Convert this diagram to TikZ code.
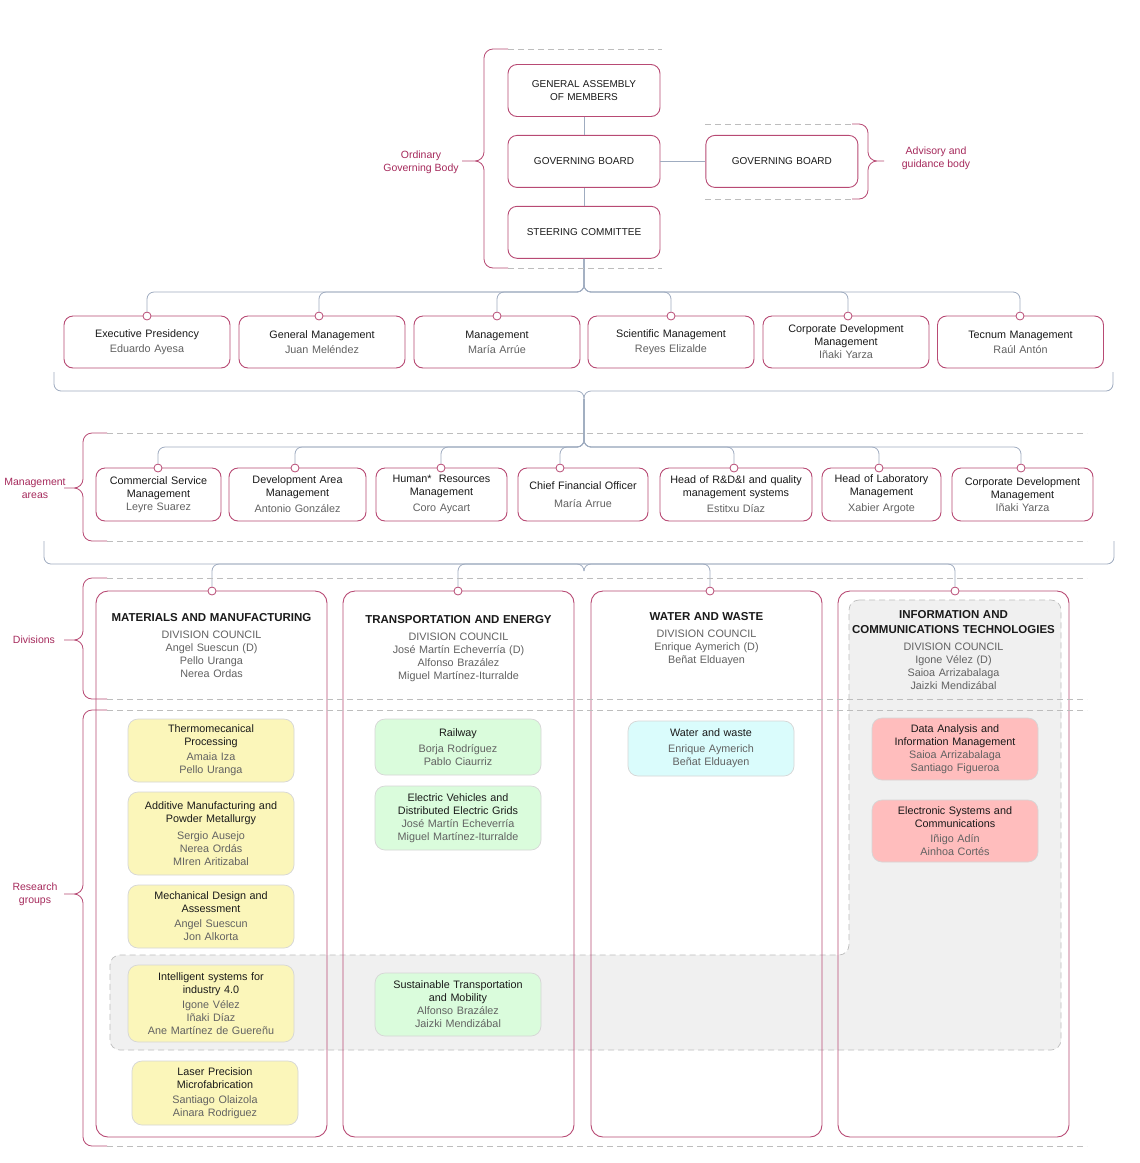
\documentclass[tikz,border=0pt]{standalone}
\usepackage{fontspec}
\setmainfont{Liberation Sans}
\usepackage{xcolor}
\usepackage{tikz}
\usetikzlibrary{positioning}

\definecolor{unavRed}{HTML}{B84A74}
\definecolor{labelRed}{HTML}{A62A5C}
\definecolor{linkGray}{HTML}{9FACC0}
\definecolor{dashGray}{HTML}{BDBDBD}
\definecolor{bandGray}{HTML}{F0F0F0}
\definecolor{nameGray}{HTML}{626262}
\definecolor{titleBlack}{HTML}{1A1A1A}
\definecolor{groupLine}{HTML}{D6D6D6}
\definecolor{mmYellow}{HTML}{FBF6BA}
\definecolor{teGreen}{HTML}{DAFCDC}
\definecolor{wwCyan}{HTML}{DAFCFC}
\definecolor{ictPink}{HTML}{FFBDBD}

\begin{document}
\begin{tikzpicture}[
  x=1pt, y=-1pt,
  font=\fontsize{10.8pt}{13pt}\selectfont,
  unit/.style={rectangle, draw=unavRed, line width=0.9pt, fill=white, rounded corners=9pt, align=center, text=titleBlack, inner xsep=0pt, minimum height=52pt, text width=#1, minimum width=#1},
  unit/.default=166pt,
  tier/.style={unit=152pt, font=\fontsize{10pt}{13pt}\selectfont},
  division/.style={rectangle, draw=unavRed, line width=0.9pt, rounded corners=12pt, minimum width=231pt, minimum height=546pt},
  divtitle/.style={align=center, text width=225pt, inner sep=0pt, text=titleBlack},
  group/.style={rectangle, draw=groupLine, line width=0.7pt, rounded corners=10pt, align=center, text=titleBlack, inner xsep=0pt, text width=166pt, minimum width=166pt},
  dot/.style={circle, draw=unavRed, fill=white, line width=0.8pt, inner sep=0pt, minimum size=8pt},
  link/.style={draw=linkGray, line width=0.8pt, rounded corners=7pt},
  brace/.style={draw=unavRed, line width=0.8pt, rounded corners=9pt},
  rule/.style={draw=dashGray, line width=0.7pt, dash pattern=on 6pt off 4pt},
  band/.style={fill=bandGray, draw=dashGray, line width=0.7pt, dash pattern=on 6pt off 4pt, rounded corners=10pt},
  sidenote/.style={text=labelRed, align=center, inner sep=0pt, font=\fontsize{10.5pt}{13pt}\selectfont}
]

\path[use as bounding box, fill=white] (0,0) rectangle (1140,1163);

% Shared research band
\path[band] (849,600) -- (1061,600) -- (1061,1050) -- (110,1050) -- (110,955) -- (849,955) -- cycle;

% Governing bodies
\node[tier] (general_assembly) at (584,90.5) {GENERAL ASSEMBLY\\OF MEMBERS};
\node[tier, below=18pt of general_assembly] (governing_board) {GOVERNING BOARD};
\node[tier, below=18pt of governing_board] (steering_committee) {STEERING COMMITTEE};
\node[tier, right=45pt of governing_board] (advisory_board) {GOVERNING BOARD};

\draw[link] (general_assembly) -- (governing_board);
\draw[link] (governing_board) -- (steering_committee);
\draw[link] (governing_board) -- (advisory_board);

% Management row
\node[unit] (executive_presidency) at (147,342) {Executive Presidency\\[2pt]\textcolor{nameGray}{Eduardo Ayesa}};
\node[unit] (general_management) at (322,342) {General Management\\[2pt]\textcolor{nameGray}{Juan Meléndez}};
\node[unit] (management) at (497,342) {Management\\[2pt]\textcolor{nameGray}{María Arrúe}};
\node[unit] (scientific_management) at (671,342) {Scientific Management\\[2pt]\textcolor{nameGray}{Reyes Elizalde}};
\node[unit] (corporate_management) at (846,342) {Corporate Development\\Management\\\textcolor{nameGray}{Iñaki Yarza}};
\node[unit] (tecnum_management) at (1020.5,342) {Tecnum Management\\[2pt]\textcolor{nameGray}{Raúl Antón}};

\node[dot] (dot_executive) at (147,316) {};
\node[dot] (dot_general) at (319,316) {};
\node[dot] (dot_management) at (497,316) {};
\node[dot] (dot_scientific) at (671,316) {};
\node[dot] (dot_corporate) at (848,316) {};
\node[dot] (dot_tecnum) at (1020,316) {};

\coordinate (bus_board) at (584,292);
\draw[link] (steering_committee) -- (bus_board) -| (dot_executive);
\draw[link] (steering_committee) -- (bus_board) -| (dot_general);
\draw[link] (steering_committee) -- (bus_board) -| (dot_management);
\draw[link] (steering_committee) -- (bus_board) -| (dot_scientific);
\draw[link] (steering_committee) -- (bus_board) -| (dot_corporate);
\draw[link] (steering_committee) -- (bus_board) -| (dot_tecnum);

\coordinate (brace_tip_a) at (584,399);
\draw[link] (54,372) |- (584,391) -- (brace_tip_a);
\draw[link] (1113,372) |- (584,391) -- (brace_tip_a);

% Management areas
\node[unit=125pt, minimum height=53pt] (commercial_service) at (158.5,494.5) {Commercial Service\\Management\\\textcolor{nameGray}{Leyre Suarez}};
\node[unit=137pt, minimum height=53pt] (development_area) at (297.5,494.5) {Development Area\\Management\\[3pt]\textcolor{nameGray}{Antonio González}};
\node[unit=131pt, minimum height=53pt] (human_resources) at (441.5,494.5) {Human*\ \ Resources\\Management\\[3pt]\textcolor{nameGray}{Coro Aycart}};
\node[unit=130pt, minimum height=53pt] (financial_officer) at (583,494.5) {Chief Financial Officer\\[5pt]\textcolor{nameGray}{María Arrue}};
\node[unit=152pt, minimum height=53pt] (quality_systems) at (736,494.5) {Head of R\&D\&I and quality\\management systems\\[3pt]\textcolor{nameGray}{Estitxu Díaz}};
\node[unit=119pt, minimum height=53pt] (laboratory) at (881.5,494.5) {Head of Laboratory\\Management\\[3pt]\textcolor{nameGray}{Xabier Argote}};
\node[unit=141pt, minimum height=53pt] (corporate_area) at (1022.5,494.5) {Corporate Development\\Management\\\textcolor{nameGray}{Iñaki Yarza}};

\node[dot] (dot_commercial) at (158,468) {};
\node[dot] (dot_development) at (295,468) {};
\node[dot] (dot_human) at (441,468) {};
\node[dot] (dot_financial) at (560,468) {};
\node[dot] (dot_quality) at (734,468) {};
\node[dot] (dot_laboratory) at (879,468) {};
\node[dot] (dot_corporate_area) at (1021,468) {};

\coordinate (bus_areas) at (584,447);
\draw[link] (brace_tip_a) -- (bus_areas) -| (dot_commercial);
\draw[link] (brace_tip_a) -- (bus_areas) -| (dot_development);
\draw[link] (brace_tip_a) -- (bus_areas) -| (dot_human);
\draw[link] (brace_tip_a) -- (bus_areas) -| (dot_financial);
\draw[link] (brace_tip_a) -- (bus_areas) -| (dot_quality);
\draw[link] (brace_tip_a) -- (bus_areas) -| (dot_laboratory);
\draw[link] (brace_tip_a) -- (bus_areas) -| (dot_corporate_area);

\coordinate (brace_tip_b) at (584,571);
\draw[link] (44,541) |- (584,564) -- (brace_tip_b);
\draw[link] (1114,541) |- (584,564) -- (brace_tip_b);

% Divisions
\node[division] (materials) at (211.5,864) {};
\node[division] (transportation) at (458.5,864) {};
\node[division] (water) at (706.5,864) {};
\node[division] (ict) at (953.5,864) {};

\node[divtitle, below=23pt of materials.north] (materials_title) {{\fontsize{11.5pt}{14pt}\selectfont\bfseries MATERIALS AND MANUFACTURING}\\[4pt]\textcolor{nameGray}{DIVISION COUNCIL\\Angel Suescun (D)\\Pello Uranga\\Nerea Ordas}};
\node[divtitle, below=25pt of transportation.north] (transportation_title) {{\fontsize{11.5pt}{14pt}\selectfont\bfseries TRANSPORTATION AND ENERGY}\\[4pt]\textcolor{nameGray}{DIVISION COUNCIL\\José Martín Echeverría (D)\\Alfonso Brazález\\Miguel Martínez-Iturralde}};
\node[divtitle, below=22pt of water.north] (water_title) {{\fontsize{11.5pt}{14pt}\selectfont\bfseries WATER AND WASTE}\\[4pt]\textcolor{nameGray}{DIVISION COUNCIL\\Enrique Aymerich (D)\\Beñat Elduayen}};
\node[divtitle, below=20pt of ict.north] (ict_title) {{\fontsize{11.5pt}{14pt}\selectfont\bfseries INFORMATION AND}\\[2pt]{\fontsize{11.5pt}{14pt}\selectfont\bfseries COMMUNICATIONS TECHNOLOGIES}\\[4pt]\textcolor{nameGray}{DIVISION COUNCIL\\Igone Vélez (D)\\Saioa Arrizabalaga\\Jaizki Mendizábal}};

\node[dot] (dot_materials) at (212,591) {};
\node[dot] (dot_transportation) at (458,591) {};
\node[dot] (dot_water) at (710,591) {};
\node[dot] (dot_ict) at (955,591) {};

\coordinate (bus_divisions) at (584,564);
\draw[link] (bus_divisions) -| (dot_materials);
\draw[link] (bus_divisions) -| (dot_transportation);
\draw[link] (bus_divisions) -| (dot_water);
\draw[link] (bus_divisions) -| (dot_ict);

% Tier rules
\draw[rule] (508,49) -- (662,49);
\draw[rule] (508,268) -- (662,268);
\draw[rule] (705,124) -- (852,124);
\draw[rule] (705,199) -- (852,199);
\draw[rule] (107,433) -- (1087,433);
\draw[rule] (107,541) -- (1087,541);
\draw[rule] (107,578) -- (1087,578);
\draw[rule] (107,699) -- (1087,699);
\draw[rule] (107,710) -- (1087,710);
\draw[rule] (107,1146) -- (1087,1146);

% Research groups
\node[group, fill=mmYellow, minimum height=63pt] (thermomechanical) at (211,750.5) {Thermomecanical\\Processing\\[2pt]\textcolor{nameGray}{Amaia Iza\\Pello Uranga}};
\node[group, fill=mmYellow, minimum height=83pt] (additive) at (211,833.5) {Additive Manufacturing and\\Powder Metallurgy\\[4pt]\textcolor{nameGray}{Sergio Ausejo\\Nerea Ordás\\MIren Aritizabal}};
\node[group, fill=mmYellow, minimum height=63pt] (mechanical) at (211,916.5) {Mechanical Design and\\Assessment\\[2pt]\textcolor{nameGray}{Angel Suescun\\Jon Alkorta}};
\node[group, fill=mmYellow, minimum height=77pt] (intelligent) at (211,1003.5) {Intelligent systems for\\industry 4.0\\[2pt]\textcolor{nameGray}{Igone Vélez\\Iñaki Díaz\\Ane Martínez de Guereñu}};
\node[group, fill=mmYellow, minimum height=64pt] (laser) at (215,1093) {Laser Precision\\Microfabrication\\[2pt]\textcolor{nameGray}{Santiago Olaizola\\Ainara Rodriguez}};

\node[group, fill=teGreen, minimum height=56pt] (railway) at (458,747) {Railway\\[3pt]\textcolor{nameGray}{Borja Rodríguez\\Pablo Ciaurriz}};
\node[group, fill=teGreen, minimum height=64pt] (electric_vehicles) at (458,818) {Electric Vehicles and\\Distributed Electric Grids\\\textcolor{nameGray}{José Martín Echeverría\\Miguel Martínez-Iturralde}};
\node[group, fill=teGreen, minimum height=63pt] (sustainable) at (458,1004.5) {Sustainable Transportation\\and Mobility\\\textcolor{nameGray}{Alfonso Brazález\\Jaizki Mendizábal}};

\node[group, fill=wwCyan, minimum height=55pt] (water_waste) at (711,748.5) {Water and waste\\[3pt]\textcolor{nameGray}{Enrique Aymerich\\Beñat Elduayen}};

\node[group, fill=ictPink, minimum height=62pt] (data_analysis) at (955,749) {Data Analysis and\\Information Management\\\textcolor{nameGray}{Saioa Arrizabalaga\\Santiago Figueroa}};
\node[group, fill=ictPink, minimum height=62pt] (electronic_systems) at (955,831) {Electronic Systems and\\Communications\\[2pt]\textcolor{nameGray}{Iñigo Adín\\Ainhoa Cortés}};

% Braces and side labels
\draw[brace] (508,49) -| (484,161) -- (462,161) (462,161) -- (484,161) |- (508,268);
\draw[brace] (852,124) -| (868,161) -- (884,161) (884,161) -- (868,161) |- (852,199);
\draw[brace] (107,433) -| (83,488) -- (64,488) (64,488) -- (83,488) |- (107,541);
\draw[brace] (107,578) -| (83,640) -- (64,640) (64,640) -- (83,640) |- (107,699);
\draw[brace] (107,710) -| (83,894) -- (64,894) (64,894) -- (83,894) |- (107,1146);

\node[sidenote] (ordinary_label) at (421,162) {Ordinary\\Governing Body};
\node[sidenote] (advisory_label) at (936,158) {Advisory and\\guidance body};
\node[sidenote] (areas_label) at (35,488) {Management\\areas};
\node[sidenote] (divisions_label) at (34,640) {Divisions};
\node[sidenote] (research_label) at (35,894) {Research\\groups};

\end{tikzpicture}
\end{document}
